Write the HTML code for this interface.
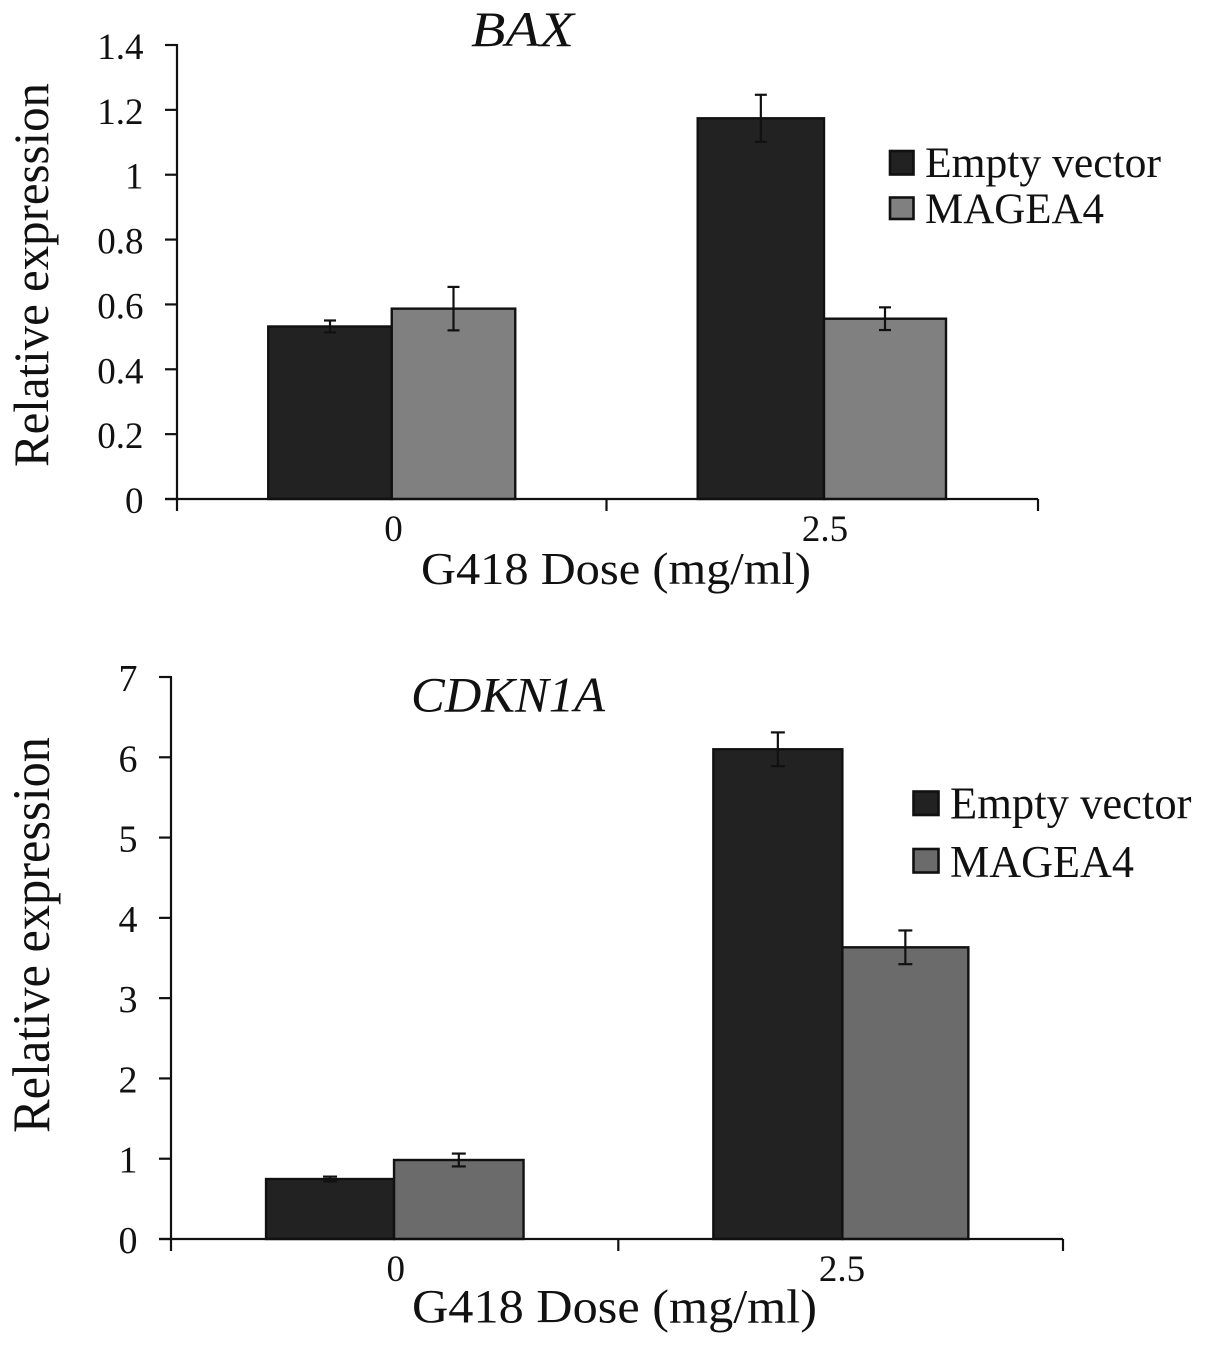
<!DOCTYPE html>
<html>
<head>
<meta charset="utf-8">
<title>BAX and CDKN1A relative expression</title>
<style>
html,body{margin:0;padding:0;background:#fff;}
svg{display:block;font-family:"Liberation Serif",serif;fill:#111;}
</style>
</head>
<body>
<svg id="figure" width="1205" height="1346" viewBox="0 0 1205 1346" xmlns="http://www.w3.org/2000/svg"></svg>
<script>
const categories = ['0', '2.5'];
const seriesNames = ['Empty vector', 'MAGEA4'];
const baxEmpty = [0.532, 1.174];
const baxMagea = [0.587, 0.556];
const baxEmptyErr = [0.0185, 0.0725];
const baxMageaErr = [0.067, 0.035];
const baxTicks = ['0', '0.2', '0.4', '0.6', '0.8', '1', '1.2', '1.4'];
const cdkEmpty = [0.747, 6.10];
const cdkMagea = [0.984, 3.633];
const cdkEmptyErr = [0.03, 0.21];
const cdkMageaErr = [0.08, 0.21];
const cdkTicks = ['0', '1', '2', '3', '4', '5', '6', '7'];

const svg = document.getElementById('figure');
const NS = 'http://www.w3.org/2000/svg';
function make(tag, attrs, text) {
  const el = document.createElementNS(NS, tag);
  for (const k in attrs) el.setAttribute(k, attrs[k]);
  if (text !== undefined) el.textContent = text;
  svg.appendChild(el);
  return el;
}
function line(x1, y1, x2, y2, w) {
  return make('line', {x1, y1, x2, y2, stroke: '#111', 'stroke-width': w || 2.2});
}

function drawChart(c) {
  const yPos = v => c.y0 - (v / c.yMax) * (c.y0 - c.y1);
  const edges = [c.x0, c.xMid, c.x1];
  const xCenter = i => (edges[i] + edges[i + 1]) / 2 + c.centerShift[i];

  // bars
  [c.a, c.b].forEach((vals, s) => {
    vals.forEach((v, i) => {
      const w = (s === 0 ? c.widthA : c.widthB)[i];
      const left = s === 0 ? xCenter(i) - w : xCenter(i);
      const top = yPos(v);
      const bar = make('rect', {x: left, y: top, width: w, height: c.y0 - top,
        fill: c.fills[s], stroke: '#111', 'stroke-width': 2.4});
      
      
      const err = (s === 0 ? c.aErr : c.bErr)[i];
      const cx = left + w / 2;
      const stem = line(cx, yPos(v + err), cx, yPos(v - err), 2.2);
      
      
      const capT = line(cx - c.capHalf, yPos(v + err), cx + c.capHalf, yPos(v + err), 2.2);
      
      
      const capB = line(cx - c.capHalf, yPos(v - err), cx + c.capHalf, yPos(v - err), 2.2);
      
      
    });
  });

  // y axis
  const yAxis = line(c.x0, c.y1 - 1, c.x0, c.y0 + 1);
  
  
  c.ticks.forEach((t) => {
    const y = yPos(parseFloat(t));
    const tick = line(c.x0 - 12, y, c.x0, y);
    
    
    const label = make('text', {x: c.x0 - 33.5, y: y + 14, 'text-anchor': 'end', 'font-size': c.tickFont}, t);
    
    
  });

  // x axis
  const xAxis = line(c.x0 - 12, c.y0, c.x1, c.y0);
  
  
  edges.forEach((x) => {
    const tick = line(x, c.y0, x, c.y0 + 12);
    
    
  });
  categories.forEach((cat, i) => {
    const label = make('text', {x: c.catX[i], y: c.y0 + 42, 'text-anchor': 'middle', 'font-size': 37}, cat);
    
    
  });

  // titles
  const title = make('text', {x: c.titleX, y: c.titleY, 'font-size': 50, 'font-style': 'italic',
    textLength: c.titleLen, lengthAdjust: 'spacingAndGlyphs'}, c.title);
  
  
  const xt = make('text', {x: c.xTitleX, y: c.xTitleY, 'font-size': c.xTitleFont,
    textLength: c.xTitleLen, lengthAdjust: 'spacingAndGlyphs'}, 'G418 Dose (mg/ml)');
  
  
  const yt = make('text', {transform: 'translate(' + c.yTitleX + ' ' + c.yTitleBottom + ') rotate(-90)', 'font-size': c.yTitleFont,
    textLength: c.yTitleLen, lengthAdjust: 'spacingAndGlyphs'}, 'Relative expression');
  
  

  // legend
  seriesNames.forEach((n, s) => {
    const sw = make('rect', {x: c.legX, y: c.swatchY[s], width: c.swatchW, height: c.swatchH[s],
      fill: c.fills[s], stroke: '#111', 'stroke-width': 2.6});
    
    
    const label = make('text', {x: c.legTextX, y: c.legBase[s], 'font-size': c.legFont,
      textLength: c.legLen[s], lengthAdjust: 'spacingAndGlyphs'}, n);
    
    
  });
}

drawChart({
  id: 'bax', title: 'BAX', titleX: 471, titleY: 46, titleLen: 103,
  x0: 177, xMid: 606.5, x1: 1038, y0: 499, y1: 45, yMax: 1.4,
  widthA: [123.5, 126.3], widthB: [123.5, 122], centerShift: [0, 1.75], capHalf: 6,
  a: baxEmpty, b: baxMagea, aErr: baxEmptyErr, bErr: baxMageaErr, ticks: baxTicks, tickFont: 37,
  fills: ['#222222', '#808080'], catX: [393.5, 825],
  xTitleX: 421, xTitleY: 584, xTitleLen: 390, xTitleFont: 46,
  yTitleX: 48, yTitleBottom: 467, yTitleLen: 384, yTitleFont: 50,
  legX: 890, legTextX: 925, swatchW: 23.5, swatchY: [151, 197.5], swatchH: [23.5, 21.5],
  legBase: [177, 223], legFont: 43, legLen: [236, 179]
});
drawChart({
  id: 'cdkn1a', title: 'CDKN1A', titleX: 411, titleY: 711.5, titleLen: 194,
  x0: 171, xMid: 618.3, x1: 1063, y0: 1239, y1: 677, yMax: 7,
  widthA: [128, 129], widthB: [129.5, 126], centerShift: [-0.6, 1.7], capHalf: 7,
  a: cdkEmpty, b: cdkMagea, aErr: cdkEmptyErr, bErr: cdkMageaErr, ticks: cdkTicks, tickFont: 38,
  fills: ['#222222', '#6b6b6b'], catX: [395.7, 842],
  xTitleX: 412, xTitleY: 1322.5, xTitleLen: 405, xTitleFont: 48,
  yTitleX: 49, yTitleBottom: 1133, yTitleLen: 396, yTitleFont: 53,
  legX: 913.5, legTextX: 950, swatchW: 25, swatchY: [791.5, 849], swatchH: [23.5, 23.5],
  legBase: [818.5, 877], legFont: 45, legLen: [241.5, 184]
});
</script>
</body>
</html>
